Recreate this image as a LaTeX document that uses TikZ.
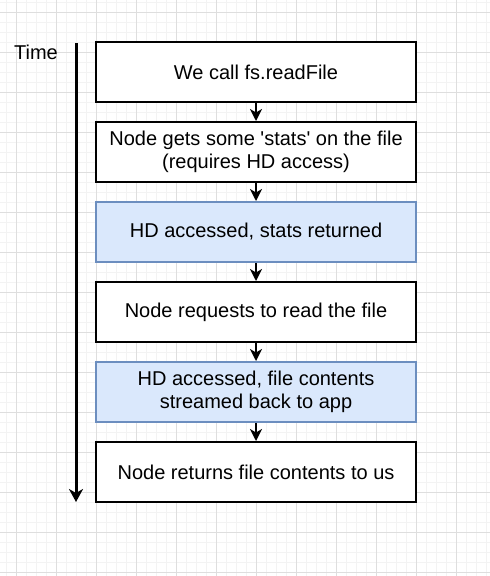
\documentclass[tikz,border=0pt]{standalone}
\usepackage{fontspec}
\setmainfont{Liberation Sans}[Ligatures=TeXOff]
\usetikzlibrary{arrows.meta}
\definecolor{gridminor}{HTML}{F3F3F3}
\definecolor{gridmajor}{HTML}{DEDEDE}
\definecolor{hdfill}{HTML}{DAE8FC}
\definecolor{hdline}{HTML}{6C8EBF}
\tikzset{
  stepbox/.style={draw=black, line width=2pt, fill=white, minimum width=320pt,
    minimum height=60pt, align=center, font=\fontsize{20}{23}\selectfont, inner sep=0pt},
  hdbox/.style={stepbox, draw=hdline, fill=hdfill},
  flow/.style={line width=2pt, -{Stealth[length=12pt,width=12pt,inset=3.5pt]}},
  timeline/.style={line width=3pt, -{Stealth[length=13pt,width=14pt,inset=4pt]}},
}
\begin{document}
\begin{tikzpicture}[x=1pt,y=-1pt]
  % page and background grid
  \fill[white] (0,0) rectangle (490,576);
  \useasboundingbox (0,0) rectangle (490,576);
  \foreach \gx in {6,16,...,486} \draw[gridminor, line width=0.8pt] (\gx,0) -- (\gx,576);
  \foreach \gy in {2,12,...,572} \draw[gridminor, line width=0.8pt] (0,\gy) -- (490,\gy);
  \foreach \gx in {16,56,...,456} \draw[gridmajor, line width=0.8pt] (\gx,0) -- (\gx,576);
  \foreach \gy in {12,52,...,572} \draw[gridmajor, line width=0.8pt] (0,\gy) -- (490,\gy);

  % time axis
  \node[font=\fontsize{20}{23}\selectfont] (timelbl) at (36,52) {Time};
  \coordinate (tstart) at (76,43);
  \coordinate (tend) at (76,502);
  \draw[timeline] (tstart) -- (tend);

  % sequence of steps
  \node[stepbox] (s1) at (256,72)  {We call fs.readFile};
  \node[stepbox] (s2) at (256,152) {Node gets some 'stats' on the file\\(requires HD access)};
  \node[hdbox]   (s3) at (256,232) {HD accessed, stats returned};
  \node[stepbox] (s4) at (256,312) {Node requests to read the file};
  \node[hdbox]   (s5) at (256,392) {HD accessed, file contents\\streamed back to app};
  \node[stepbox] (s6) at (256,472) {Node returns file contents to us};

  \foreach \a/\b in {s1/s2, s2/s3, s3/s4, s4/s5, s5/s6}
    \draw[flow] (\a.south) -- (\b.north);
\end{tikzpicture}
\end{document}
